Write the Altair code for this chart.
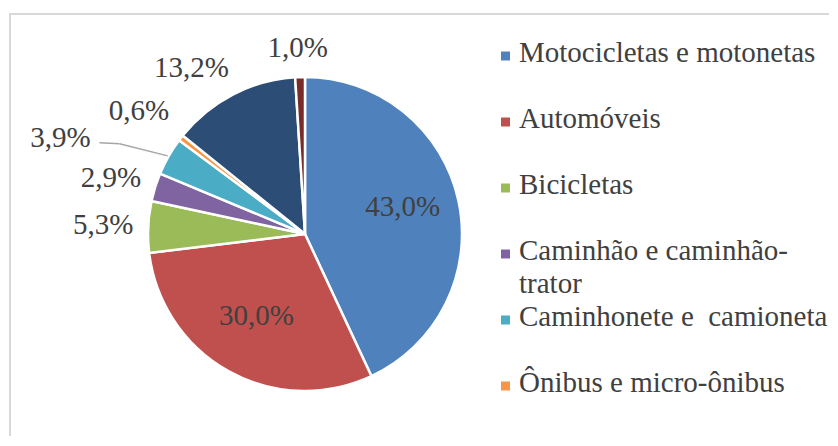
import altair as alt
import pandas as pd

# ---- data ----
categories = ["Motocicletas e motonetas", "Automóveis", "Bicicletas",
              "Caminhão e caminhão-trator", "Caminhonete e  camioneta",
              "Ônibus e micro-ônibus", "Outros", "Ignorado"]
shares = [43.0, 30.0, 5.3, 2.9, 3.9, 0.6, 13.2, 1.0]
colors = ["#4F81BD", "#C0504D", "#9BBB59", "#8064A2", "#4BACC6",
          "#F79646", "#2C4D75", "#772C2A"]
legend_labels = ["Motocicletas e motonetas", "Automóveis", "Bicicletas",
                 "Caminhão e caminhão-\ntrator", "Caminhonete e\u00a0 camioneta",
                 "Ônibus e micro-ônibus"]

# ---- layout / style ----
W, H = 820, 428
CX, CY, R = 296, 226, 157
FONT = "Liberation Serif"
TXT = "#404040"
FS = 29
MOVED = 4            # label moved aside with leader line
MDX, MDY = -65, -4
NUDGED = 5           # label nudged up to avoid collision
NDY = -9

df = pd.DataFrame({
    "cat": categories,
    "value": shares,
    "idx": list(range(len(categories))),
    "label": [f"{v:.1f}%".replace(".", ",") for v in shares],
})

cscale = alt.Scale(domain=categories, range=colors)

arc = alt.Chart(df).mark_arc(radius=R, stroke="white", strokeWidth=2.5).encode(
    theta=alt.Theta("value:Q", stack=True),
    color=alt.Color("cat:N", scale=cscale, legend=None),
    order=alt.Order("idx:Q"),
    x=alt.value(CX), y=alt.value(CY),
)

# label placement (outside-end, Excel-like): anchor on a ray, box shifted outward
lbl = (alt.Chart(df)
       .transform_joinaggregate(total="sum(value)")
       .transform_window(cum="sum(value)", sort=[alt.SortField("idx")], frame=[None, 0])
       .transform_calculate(mid="2*PI*(datum.cum - datum.value/2)/datum.total",
                            w="15*length(datum.label)")
       .transform_calculate(
           sx="max(-1, min(1, 2*sin(datum.mid)))",
           sy="-cos(datum.mid)")
       .transform_calculate(
           px=f"{CX} + {R + 15}*sin(datum.mid) + datum.sx*datum.w/2",
           py=f"{CY} - {R + 15}*cos(datum.mid) + datum.sy*{FS / 2}"))

text_kw = dict(font=FONT, fontSize=FS, color=TXT, align="center", baseline="middle")

inner = lbl.transform_filter("datum.value >= 20").mark_text(radius=100, dy=-5, **text_kw).encode(
    theta=alt.Theta("mid:Q", scale=None), text="label:N",
    x=alt.value(CX), y=alt.value(CY))

outer = lbl.transform_filter(
    f"datum.value < 20 && datum.idx != {MOVED} && datum.idx != {NUDGED}").mark_text(**text_kw).encode(
    x=alt.X("px:Q", scale=None, axis=None), y=alt.Y("py:Q", scale=None, axis=None),
    text="label:N")

nudged = lbl.transform_filter(f"datum.idx == {NUDGED}").mark_text(dy=NDY, **text_kw).encode(
    x=alt.X("px:Q", scale=None, axis=None), y=alt.Y("py:Q", scale=None, axis=None),
    text="label:N")

moved = lbl.transform_filter(f"datum.idx == {MOVED}").mark_text(dx=MDX, dy=MDY, **text_kw).encode(
    x=alt.X("px:Q", scale=None, axis=None), y=alt.Y("py:Q", scale=None, axis=None),
    text="label:N")

lead = (lbl.transform_filter(f"datum.idx == {MOVED}")
        .transform_calculate(
            ex=f"{CX} + {R + 1}*sin(datum.mid)",
            ey=f"{CY} - {R + 1}*cos(datum.mid)",
            lx=f"datum.px + {MDX} + datum.w/2 + 9",
            ly=f"datum.py + {MDY} + 5")
        .transform_calculate(bx="datum.lx + 20", by="datum.ly + 1"))
lead1 = lead.mark_rule(color="#a6a6a6", strokeWidth=1.5).encode(
    x=alt.X("lx:Q", scale=None, axis=None), y=alt.Y("ly:Q", scale=None, axis=None),
    x2="bx:Q", y2="by:Q")
lead2 = lead.mark_rule(color="#a6a6a6", strokeWidth=1.5).encode(
    x=alt.X("bx:Q", scale=None, axis=None), y=alt.Y("by:Q", scale=None, axis=None),
    x2="ex:Q", y2="ey:Q")

# frame (top and left edges visible)
one = pd.DataFrame({"a": [0]})
frame_left = alt.Chart(one).mark_rule(color="#d9d9d9", strokeWidth=2).encode(
    x=alt.value(1), y=alt.value(6), y2=alt.value(H))
frame_top = alt.Chart(one).mark_rule(color="#d9d9d9", strokeWidth=2).encode(
    x=alt.value(0), x2=alt.value(W), y=alt.value(6))

# legend (first six entries, as in the original)
leg_df = pd.DataFrame({"cat": categories[:6], "text": legend_labels})
yleg = alt.Y("cat:N", axis=None,
             scale=alt.Scale(type="point", domain=categories[:6], range=[54, 384], padding=0))
leg_sq = alt.Chart(leg_df).mark_square(size=81, opacity=1, yOffset=-6).encode(
    x=alt.value(496.5), y=yleg, color=alt.Color("cat:N", scale=cscale, legend=None))
leg_tx = alt.Chart(leg_df).mark_text(align="left", baseline="alphabetic", font=FONT,
                                     fontSize=FS, color=TXT, lineBreak="\n",
                                     lineHeight=32.5).encode(
    x=alt.value(510), y=yleg, text="text:N")

chart = (alt.layer(frame_left, frame_top, arc, inner, outer, nudged, moved, lead1, lead2,
                   leg_sq, leg_tx)
         .resolve_scale(x="independent", y="independent")
         .properties(width=W, height=H, padding=0, background="white")
         .configure(font=FONT)
         .configure_view(strokeWidth=0))

chart.save("out.html", embed_options={"renderer": "svg", "actions": False})
